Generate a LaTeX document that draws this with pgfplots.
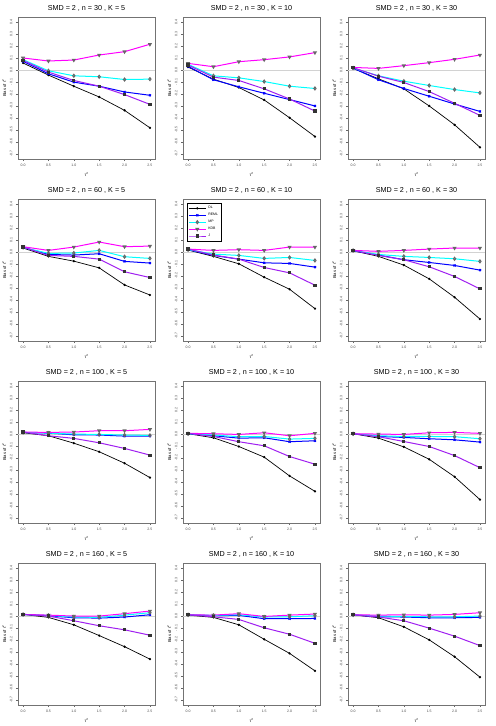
\documentclass[border=0pt]{standalone}
\usepackage{fontspec}
\setmainfont{Liberation Sans}
\usepackage{pgfplots}
\pgfplotsset{compat=1.18}
\usepackage{pgfplotstable}
\usepgfplotslibrary{groupplots}
\usetikzlibrary{calc}

\definecolor{cDL}{rgb}{0,0,0}
\definecolor{cREML}{rgb}{0,0,1}
\definecolor{cMP}{rgb}{0,1,1}
\definecolor{cKDB}{rgb}{1,0,1}
\definecolor{cJ}{RGB}{160,32,240}

% bias of tau^2, one table per panel (SMD = 2)
\pgfplotstableread{
t   DL     REML   MP     KDB   J
0.0  0.059  0.073  0.087 0.101  0.081
0.5 -0.042 -0.031 -0.006 0.076 -0.017
1.0 -0.135 -0.101 -0.048 0.084 -0.087
1.5 -0.225 -0.135 -0.056 0.126 -0.135
2.0 -0.337 -0.183 -0.079 0.154 -0.205
2.5 -0.483 -0.211 -0.076 0.216 -0.287
}\tA
\pgfplotstableread{
t   DL     REML   MP     KDB   J
0.0  0.025  0.031  0.048 0.056  0.042
0.5 -0.076 -0.081 -0.048 0.028 -0.059
1.0 -0.146 -0.140 -0.065 0.070 -0.087
1.5 -0.250 -0.194 -0.096 0.087 -0.157
2.0 -0.399 -0.247 -0.135 0.110 -0.242
2.5 -0.556 -0.300 -0.154 0.146 -0.343
}\tB
\pgfplotstableread{
t   DL     REML   MP     KDB   J
0.0  0.014  0.017  0.017 0.022  0.020
0.5 -0.073 -0.081 -0.048 0.014 -0.051
1.0 -0.157 -0.154 -0.093 0.037 -0.104
1.5 -0.300 -0.219 -0.129 0.062 -0.180
2.0 -0.458 -0.284 -0.163 0.090 -0.278
2.5 -0.646 -0.346 -0.191 0.126 -0.379
}\tC
\pgfplotstableread{
t   DL     REML   MP     KDB   J
0.0  0.034  0.039  0.039 0.045  0.042
0.5 -0.036 -0.020 -0.011 0.014 -0.028
1.0 -0.076 -0.025 -0.008 0.042 -0.036
1.5 -0.132 -0.014  0.014 0.084 -0.059
2.0 -0.275 -0.078 -0.039 0.045 -0.165
2.5 -0.359 -0.092 -0.053 0.050 -0.213
}\tD
\pgfplotstableread{
t   DL     REML   MP     KDB   J
0.0  0.017  0.020  0.020 0.025  0.025
0.5 -0.036 -0.028 -0.017 0.014 -0.025
1.0 -0.098 -0.059 -0.028 0.020 -0.059
1.5 -0.210 -0.090 -0.053 0.014 -0.129
2.0 -0.311 -0.095 -0.045 0.042 -0.174
2.5 -0.473 -0.126 -0.070 0.042 -0.277
}\tE
\pgfplotstableread{
t   DL     REML   MP     KDB   J
0.0  0.011  0.011  0.014 0.014  0.014
0.5 -0.036 -0.025 -0.020 0.006 -0.028
1.0 -0.109 -0.064 -0.036 0.014 -0.064
1.5 -0.224 -0.087 -0.045 0.025 -0.123
2.0 -0.378 -0.112 -0.056 0.034 -0.204
2.5 -0.560 -0.151 -0.078 0.034 -0.308
}\tF
\pgfplotstableread{
t   DL     REML   MP     KDB   J
0.0  0.011  0.014  0.014 0.017  0.017
0.5 -0.014  0.008  0.008 0.014 -0.014
1.0 -0.076 -0.006  0.000 0.017 -0.036
1.5 -0.148 -0.008 -0.003 0.028 -0.073
2.0 -0.244 -0.017 -0.008 0.028 -0.120
2.5 -0.364 -0.017 -0.011 0.039 -0.176
}\tG
\pgfplotstableread{
t   DL     REML   MP     KDB    J
0.0  0.003  0.003  0.003  0.006  0.006
0.5 -0.031 -0.014 -0.008  0.003 -0.020
1.0 -0.104 -0.034 -0.022 -0.003 -0.064
1.5 -0.193 -0.031 -0.020  0.011 -0.098
2.0 -0.350 -0.064 -0.042 -0.014 -0.188
2.5 -0.479 -0.056 -0.036  0.006 -0.252
}\tH
\pgfplotstableread{
t   DL     REML   MP     KDB    J
0.0  0.003  0.003  0.003  0.003  0.003
0.5 -0.034 -0.020 -0.014  0.000 -0.022
1.0 -0.107 -0.028 -0.020 -0.003 -0.062
1.5 -0.211 -0.039 -0.020  0.011 -0.104
2.0 -0.357 -0.048 -0.022  0.014 -0.180
2.5 -0.548 -0.067 -0.039  0.006 -0.281
}\tI
\pgfplotstableread{
t   DL     REML   MP     KDB   J
0.0  0.014  0.014  0.014 0.014  0.014
0.5 -0.011  0.003  0.006 0.008  0.000
1.0 -0.073 -0.014 -0.008 0.000 -0.039
1.5 -0.163 -0.017 -0.011 0.000 -0.081
2.0 -0.256 -0.008  0.008 0.020 -0.115
2.5 -0.360  0.011  0.028 0.042 -0.160
}\tJ
\pgfplotstableread{
t   DL     REML   MP     KDB    J
0.0  0.008  0.011  0.011  0.011  0.011
0.5 -0.011  0.003  0.006  0.008 -0.006
1.0 -0.073  0.006  0.011  0.020 -0.028
1.5 -0.194 -0.022 -0.008 -0.003 -0.098
2.0 -0.312 -0.022 -0.006  0.008 -0.152
2.5 -0.458 -0.020  0.003  0.017 -0.228
}\tK
\pgfplotstableread{
t   DL     REML   MP     KDB   J
0.0  0.011  0.011  0.011 0.011  0.011
0.5 -0.014 -0.006  0.000 0.008 -0.008
1.0 -0.090 -0.008 -0.003 0.011 -0.039
1.5 -0.199 -0.014 -0.006 0.008 -0.101
2.0 -0.340 -0.014 -0.006 0.014 -0.168
2.5 -0.511 -0.011  0.000 0.028 -0.247
}\tL

\pgfplotsset{
  sDL/.style={cDL, line width=0.7pt, mark=*, mark size=0.8pt},
  sREML/.style={cREML, line width=1pt, mark=x, mark size=1.4pt},
  sMP/.style={cMP, line width=1pt, mark=diamond, mark size=1.5pt, mark options={draw=black!60}},
  sKDB/.style={cKDB, line width=1pt, mark=triangle, mark size=1.5pt, every mark/.append style={rotate=180, draw=black!60}},
  sJ/.style={cJ, line width=1pt, mark=square*, mark size=1.1pt, mark options={fill=black!80, draw=black!80}},
}

\newcommand{\curves}[1]{%
  \addplot[gray!35, line width=0.9pt, forget plot] coordinates {(-0.1,0) (2.6,0)};
  \addplot[sDL] table[x=t, y=DL] {#1};
  \addplot[sREML] table[x=t, y=REML] {#1};
  \addplot[sMP] table[x=t, y=MP] {#1};
  \addplot[sKDB] table[x=t, y=KDB] {#1};
  \addplot[sJ] table[x=t, y=J] {#1};
}

\begin{document}
\begin{tikzpicture}
\begin{groupplot}[
  group style={group size=3 by 4, horizontal sep=28pt, vertical sep=40pt},
  width=137pt, height=142pt, scale only axis,
  xmin=-0.1, xmax=2.6, ymin=-0.744, ymax=0.444,
  xtick={0,0.5,1,1.5,2,2.5},
  xticklabels={0.0,0.5,1.0,1.5,2.0,2.5},
  ytick={-0.7,-0.6,-0.5,-0.4,-0.3,-0.2,-0.1,0,0.1,0.2,0.3,0.4},
  yticklabels={-0.7,-0.6,-0.5,-0.4,-0.3,-0.2,-0.1,0.0,0.1,0.2,0.3,0.4},
  tick pos=left, tick align=outside, major tick length=2pt,
  every tick/.style={black!60, line width=0.3pt},
  axis line style={black!55, line width=0.6pt},
  tick label style={font=\fontsize{3.5}{4}\selectfont, text=black!70},
  yticklabel style={rotate=90, anchor=south},
  xlabel={τ\textsuperscript{2}}, ylabel={Bias of τ\textsuperscript{2}},
  label style={font=\fontsize{4.2}{5}\selectfont},
  xlabel style={yshift=1pt}, ylabel style={yshift=-3pt},
  title style={font=\fontsize{7.2}{8}\selectfont, yshift=-3.5pt},
  legend cell align=left,
  legend style={font=\fontsize{3.5}{4.5}\selectfont, at={(0.03,0.97)}, anchor=north west,
    draw=black, line width=0.3pt, inner sep=1pt, row sep=-1pt},
]
\nextgroupplot[title={SMD = 2 , n = 30 , K = 5}]  \curves{\tA}
\nextgroupplot[title={SMD = 2 , n = 30 , K = 10}] \curves{\tB}
\nextgroupplot[title={SMD = 2 , n = 30 , K = 30}] \curves{\tC}
\nextgroupplot[title={SMD = 2 , n = 60 , K = 5}]  \curves{\tD}
\nextgroupplot[title={SMD = 2 , n = 60 , K = 10}, legend entries={DL,REML,MP,KDB,J}] \curves{\tE}
\nextgroupplot[title={SMD = 2 , n = 60 , K = 30}] \curves{\tF}
\nextgroupplot[title={SMD = 2 , n = 100 , K = 5}]  \curves{\tG}
\nextgroupplot[title={SMD = 2 , n = 100 , K = 10}] \curves{\tH}
\nextgroupplot[title={SMD = 2 , n = 100 , K = 30}] \curves{\tI}
\nextgroupplot[title={SMD = 2 , n = 160 , K = 5}]  \curves{\tJ}
\nextgroupplot[title={SMD = 2 , n = 160 , K = 10}] \curves{\tK}
\nextgroupplot[title={SMD = 2 , n = 160 , K = 30}] \curves{\tL}
\end{groupplot}
\pgfresetboundingbox
\path ($(group c1r1.north west)+(-18pt,17pt)$) rectangle ($(group c3r4.south east)+(10pt,-21pt)$);
\end{tikzpicture}
\end{document}
